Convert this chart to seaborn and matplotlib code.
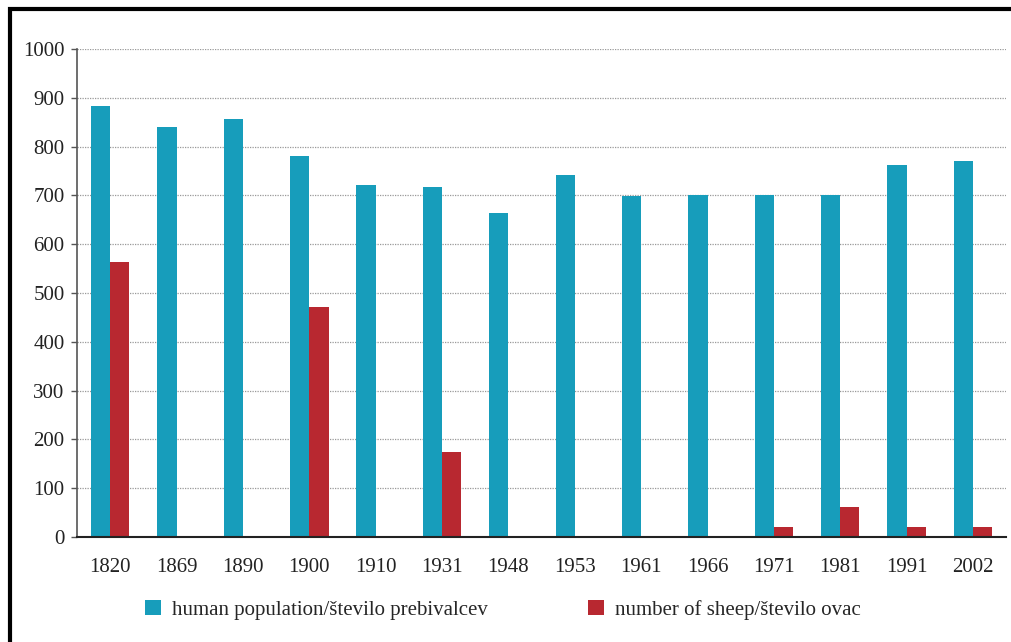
import matplotlib.pyplot as plt
import numpy as np
import pandas as pd
import seaborn as sns
from matplotlib.patches import Rectangle

years = ["1820", "1869", "1890", "1900", "1910", "1931", "1948",
         "1953", "1961", "1966", "1971", "1981", "1991", "2002"]
population = [883, 840, 857, 781, 721, 717, 664, 742, 699, 701, 700, 700, 762, 770]
sheep = [563, 0, 0, 471, 0, 174, 0, 0, 0, 0, 20, 61, 20, 20]

label_pop = "human population/število prebivalcev"
label_sheep = "number of sheep/število ovac"

if __name__ == "__main__":
    df = pd.DataFrame({"year": years * 2,
                       "value": population + sheep,
                       "series": [label_pop] * len(years) + [label_sheep] * len(years)})

    sns.set_style("white")
    plt.rcParams['font.family'] = ['Liberation Serif', 'DejaVu Serif']

    fig = plt.figure(figsize=(10.11, 6.42), dpi=100)
    ax = fig.add_axes([0.0762, 0.1636, 0.919, 0.7601])
    sns.barplot(data=df, x="year", y="value", hue="series", ax=ax,
                palette=["#179dbb", "#b82830"], width=0.58, saturation=1,
                linewidth=0, edgecolor="none")

    ax.set_ylim(0, 1000)
    ax.set_xlim(-0.5, 13.5)
    ax.set_yticks(np.arange(0, 1001, 100))
    ax.set_xlabel("")
    ax.set_ylabel("")
    ax.yaxis.grid(True, linestyle=(0, (1, 1)), color="#999999", linewidth=0.9)
    ax.set_axisbelow(True)
    for s in ["top", "right"]:
        ax.spines[s].set_visible(False)
    ax.spines["left"].set_color("#555555")
    ax.spines["left"].set_linewidth(1.2)
    ax.spines["bottom"].set_color("#222222")
    ax.spines["bottom"].set_linewidth(1.5)
    ax.tick_params(axis="y", left=True, length=4, width=1, color="#555555",
                   labelsize=15, labelcolor="#222222", pad=5)
    ax.tick_params(axis="x", bottom=False, labelsize=15, labelcolor="#222222", pad=12)

    handles, labels = ax.get_legend_handles_labels()
    ax.legend(handles, labels, loc="upper left", bbox_to_anchor=(0.0645, -0.112),
              ncol=2, frameon=False, fontsize=15, handlelength=0.75, handleheight=0.75,
              columnspacing=4.8, handletextpad=0.55, borderaxespad=0)

    fig.patches.append(Rectangle((0.0095, -0.2), 1.2, 1.1855, transform=fig.transFigure,
                                 fill=False, edgecolor="black", linewidth=3))

    plt.savefig("out.png", dpi=100)
